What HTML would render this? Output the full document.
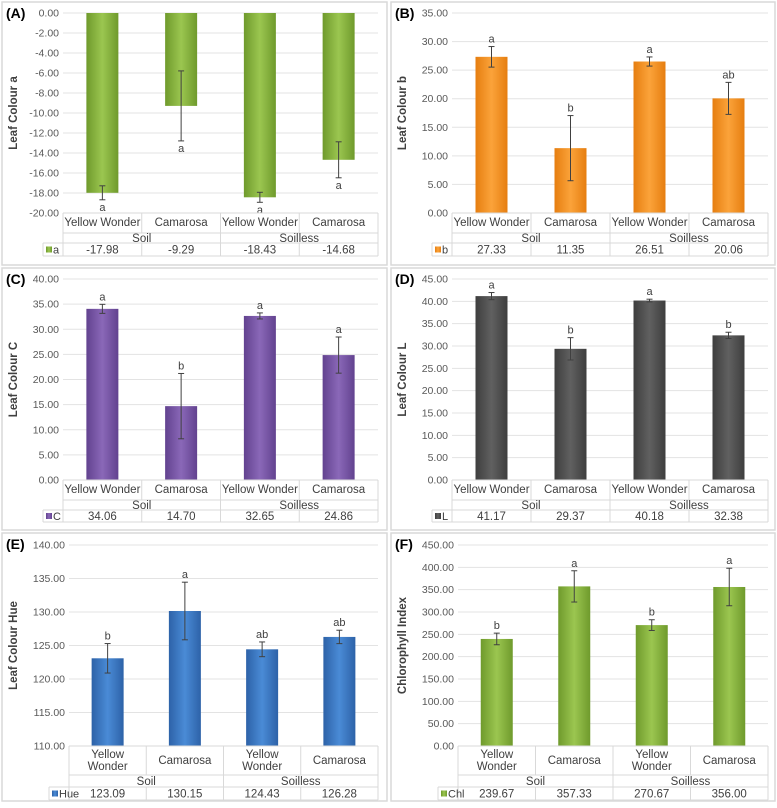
<!DOCTYPE html>
<html><head><meta charset="utf-8"><style>
body{margin:0;background:#fff;width:777px;height:803px;overflow:hidden}
svg{font-family:"Liberation Sans",sans-serif}
</style></head><body>
<svg id="chart" width="777" height="803" viewBox="0 0 777 803"></svg>
<script>
const categories=["Yellow Wonder","Camarosa","Yellow Wonder","Camarosa"];
const groups=["Soil","Soilless"];
const valsA=[-17.98,-9.29,-18.43,-14.68];
const errA=[0.7,3.5,0.5,1.8];
const letA=["a","a","a","a"];
const ticksA=[0,-2,-4,-6,-8,-10,-12,-14,-16,-18,-20];
const valsB=[27.33,11.35,26.51,20.06];
const errB=[1.8,5.7,0.8,2.8];
const letB=["a","b","a","ab"];
const ticksB=[0,5,10,15,20,25,30,35];
const valsC=[34.06,14.70,32.65,24.86];
const errC=[0.9,6.5,0.6,3.6];
const letC=["a","b","a","a"];
const ticksC=[0,5,10,15,20,25,30,35,40];
const valsD=[41.17,29.37,40.18,32.38];
const errD=[0.8,2.5,0.3,0.7];
const letD=["a","b","a","b"];
const ticksD=[0,5,10,15,20,25,30,35,40,45];
const valsE=[123.09,130.15,124.43,126.28];
const errE=[2.2,4.3,1.1,1.0];
const letE=["b","a","ab","ab"];
const ticksE=[110,115,120,125,130,135,140];
const valsF=[239.67,357.33,270.67,356.00];
const errF=[13,35,12,42];
const letF=["b","a","b","a"];
const ticksF=[0,50,100,150,200,250,300,350,400,450];

const NS="http://www.w3.org/2000/svg";
const svg=document.getElementById('chart');
function mk(tag,at,parent,txt){const e=document.createElementNS(NS,tag);for(const k in at)e.setAttribute(k,at[k]);if(txt!==undefined)e.textContent=txt;(parent||svg).appendChild(e);return e;}
const defs=mk('defs',{});
function grad(id,c1,c2){const g=mk('linearGradient',{id:id,x1:0,y1:0,x2:1,y2:0},defs);mk('stop',{offset:'0','stop-color':c2},g);mk('stop',{offset:'0.5','stop-color':c1},g);mk('stop',{offset:'1','stop-color':c2},g);}
grad('gG','#9bc650','#6f9a2c');grad('gO','#fba33a','#e67e10');grad('gP','#8a68b8','#62428f');grad('gK','#606060','#3e3e3e');grad('gB','#4a8bd6','#2d62a8');

function panel(o){
  const g=mk('g',{});
  
  
  mk('rect',{x:o.fx,y:o.fy,width:o.fw,height:o.fh,fill:'#fff',stroke:'#d9d9d9','stroke-width':1.5},g);
  const t=mk('text',{x:o.fx+4,y:o.fy+16,'font-size':14,'font-weight':'bold',fill:'#000'},g,'('+o.id+')');
  
  const min=Math.min(...o.ticks),max=Math.max(...o.ticks);
  const y=v=>o.yb-(v-min)/(max-min)*(o.yb-o.yt);
  const cw=(o.pr-o.pl)/o.vals.length;
  const x=i=>o.pl+cw*(i+0.5);
  o.ticks.forEach(tv=>{
    mk('line',{x1:o.pl,x2:o.pr,y1:y(tv),y2:y(tv),stroke:'#e3e3e3','stroke-width':1},g);
    const l=mk('text',{x:o.pl-4,y:y(tv)+3.5,'font-size':10.5,fill:'#595959','text-anchor':'end'},g,tv.toFixed(2));
    
  });
  const yt=mk('text',{x:0,y:0,'font-size':11.5,'font-weight':'bold',fill:'#404040','text-anchor':'middle',transform:`translate(${o.fx+15},${(o.yt+o.yb)/2}) rotate(-90)`},g,o.title);
  
  const base=min<0&&max<=0?y(max):y(min);
  o.vals.forEach((v,i)=>{
    const yy=y(v),top=Math.min(yy,base),h=Math.abs(yy-base);
    const b=mk('rect',{x:x(i)-16,y:top,width:32,height:h,fill:'url(#'+o.grad+')'},g);
    
    const e1=y(v+o.err[i]),e2=y(v-o.err[i]);
    const eb=mk('g',{stroke:'#404040','stroke-width':1},g);
    
    mk('line',{x1:x(i),x2:x(i),y1:e1,y2:e2},eb);
    mk('line',{x1:x(i)-3,x2:x(i)+3,y1:e1,y2:e1},eb);
    mk('line',{x1:x(i)-3,x2:x(i)+3,y1:e2,y2:e2},eb);
    const ly=v<0?Math.max(e1,e2)+11:Math.min(e1,e2)-4;
    const lt=mk('text',{x:x(i),y:ly,'font-size':11,fill:'#404040','text-anchor':'middle'},g,o.lets[i]);
    
  });
  const L='#d9d9d9';
  const r0=o.yb,r1=o.r1,r2=o.r2,r3=o.r3;
  mk('line',{x1:o.pl,x2:o.pr,y1:r0,y2:r0,stroke:L},g);
  mk('line',{x1:o.pl,x2:o.pr,y1:r1,y2:r1,stroke:L},g);
  mk('line',{x1:o.pl-20,x2:o.pr,y1:r2,y2:r2,stroke:L},g);
  mk('line',{x1:o.pl-20,x2:o.pr,y1:r3,y2:r3,stroke:L},g);
  mk('line',{x1:o.pl-20,x2:o.pl-20,y1:r2,y2:r3,stroke:L},g);
  for(let i=0;i<=4;i++){
    const xx=o.pl+cw*i;
    const y2=(i==1||i==3)?r1:r3;
    mk('line',{x1:xx,x2:xx,y1:r0,y2:y2,stroke:L},g);
    if(i==1||i==3)mk('line',{x1:xx,x2:xx,y1:r2,y2:r3,stroke:L},g);
  }
  categories.forEach((c,i)=>{
    let tx;
    if(o.wrap&&c.indexOf(' ')>0){const p=c.split(' ');
      tx=mk('text',{x:x(i),y:r0+12,'font-size':11.5,fill:'#404040','text-anchor':'middle'},g);
      mk('tspan',{x:x(i),dy:0},tx,p[0]);mk('tspan',{x:x(i),dy:12},tx,p[1]);
    } else tx=mk('text',{x:x(i),y:o.wrap?r0+18:r0+13,'font-size':11.5,fill:'#404040','text-anchor':'middle'},g,c);
    
  });
  groups.forEach((gr,i)=>{
    const gt=mk('text',{x:o.pl+cw*(2*i+1),y:r1+(r2-r1)/2+4,'font-size':11.5,fill:'#404040','text-anchor':'middle'},g,gr);
    
  });
  const lg=mk('g',{},g);
  mk('rect',{x:o.pl-17,y:(r2+r3)/2-3,width:6,height:6,fill:'url(#'+o.grad+')'},lg);
  mk('text',{x:o.pl-10,y:(r2+r3)/2+4,'font-size':11,fill:'#404040'},lg,o.key);
  o.vals.forEach((v,i)=>{
    const vt=mk('text',{x:x(i),y:(r2+r3)/2+4,'font-size':11.5,fill:'#404040','text-anchor':'middle'},g,v.toFixed(2));
    
  });
}
panel({id:'A',fx:2,fy:2,fw:385,fh:263,pl:63,pr:378,yt:13,yb:213,r1:233,r2:243,r3:256,vals:valsA,err:errA,lets:letA,ticks:ticksA,title:'Leaf Colour a',grad:'gG',key:'a'});
panel({id:'B',fx:391,fy:2,fw:384,fh:263,pl:452,pr:768,yt:13,yb:213,r1:233,r2:243,r3:256,vals:valsB,err:errB,lets:letB,ticks:ticksB,title:'Leaf Colour b',grad:'gO',key:'b'});
panel({id:'C',fx:2,fy:268,fw:385,fh:262,pl:63,pr:378,yt:279,yb:480,r1:500,r2:510,r3:522,vals:valsC,err:errC,lets:letC,ticks:ticksC,title:'Leaf Colour C',grad:'gP',key:'C'});
panel({id:'D',fx:391,fy:268,fw:384,fh:262,pl:452,pr:768,yt:279,yb:480,r1:500,r2:510,r3:522,vals:valsD,err:errD,lets:letD,ticks:ticksD,title:'Leaf Colour L',grad:'gK',key:'L'});
panel({id:'E',fx:2,fy:533,fw:385,fh:268,pl:69,pr:378,yt:545,yb:746,r1:775,r2:787,r3:800,vals:valsE,err:errE,lets:letE,ticks:ticksE,title:'Leaf Colour Hue',grad:'gB',key:'Hue',wrap:true});
panel({id:'F',fx:391,fy:533,fw:384,fh:268,pl:458,pr:768,yt:545,yb:746,r1:775,r2:787,r3:800,vals:valsF,err:errF,lets:letF,ticks:ticksF,title:'Chlorophyll Index',grad:'gG',key:'Chl',wrap:true});
</script>
</body></html>
